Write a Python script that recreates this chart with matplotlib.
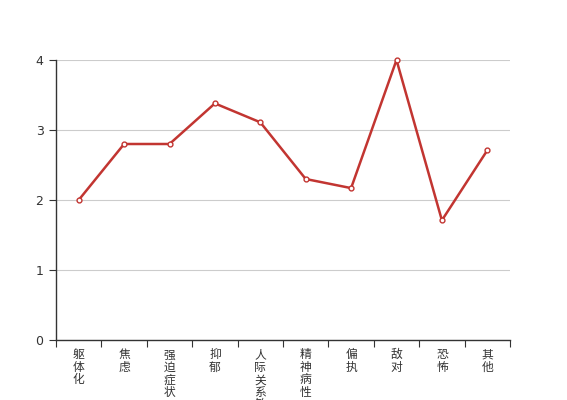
import matplotlib
matplotlib.use("Agg")
import matplotlib.pyplot as plt
import numpy as np

plt.rcParams['font.family'] = ['Noto Sans CJK SC', 'DejaVu Sans']

categories = ["躯体化", "焦虑", "强迫症状", "抑郁", "人际关系敏感",
              "精神病性", "偏执", "敌对", "恐怖", "其他"]
values = [2.0, 2.8, 2.8, 3.38, 3.11, 2.3, 2.17, 4.0, 1.71, 2.71]
y_ticks = [0, 1, 2, 3, 4]

fig = plt.figure(figsize=(5.67, 4.0), dpi=100)
ax = fig.add_axes([56 / 567, 0.15, (510 - 56) / 567, 0.70])

x = np.arange(len(categories))
ax.plot(x, values, color="#c23531", lw=1.8, marker="o", ms=3.5,
        mfc="white", mec="#c23531", mew=1, zorder=3, clip_on=False)

ax.set_xlim(-0.5, len(categories) - 0.5)
ax.set_ylim(0, 4)
ax.set_yticks(y_ticks)
ax.set_yticklabels([str(v) for v in y_ticks], family="DejaVu Sans")
ax.grid(axis="y", color="#cccccc", lw=0.8)
ax.set_axisbelow(True)

ax.set_xticks(np.arange(len(categories) + 1) - 0.5)
ax.set_xticklabels([])
ax.set_xticks(x, minor=True)
ax.set_xticklabels(["\n".join(c) for c in categories], minor=True,
                   va="top", linespacing=0.95)
ax.tick_params(axis="x", which="minor", length=0, pad=6, labelsize=8.5,
               labelcolor="#333333")
ax.tick_params(axis="x", which="major", length=5, color="#333333")
ax.tick_params(axis="y", length=5, color="#333333", labelsize=9,
               labelcolor="#333333", pad=4)

for s in ["top", "right"]:
    ax.spines[s].set_visible(False)
for s in ["left", "bottom"]:
    ax.spines[s].set_color("#333333")
    ax.spines[s].set_linewidth(1)

fig.savefig("out.png", dpi=100)
